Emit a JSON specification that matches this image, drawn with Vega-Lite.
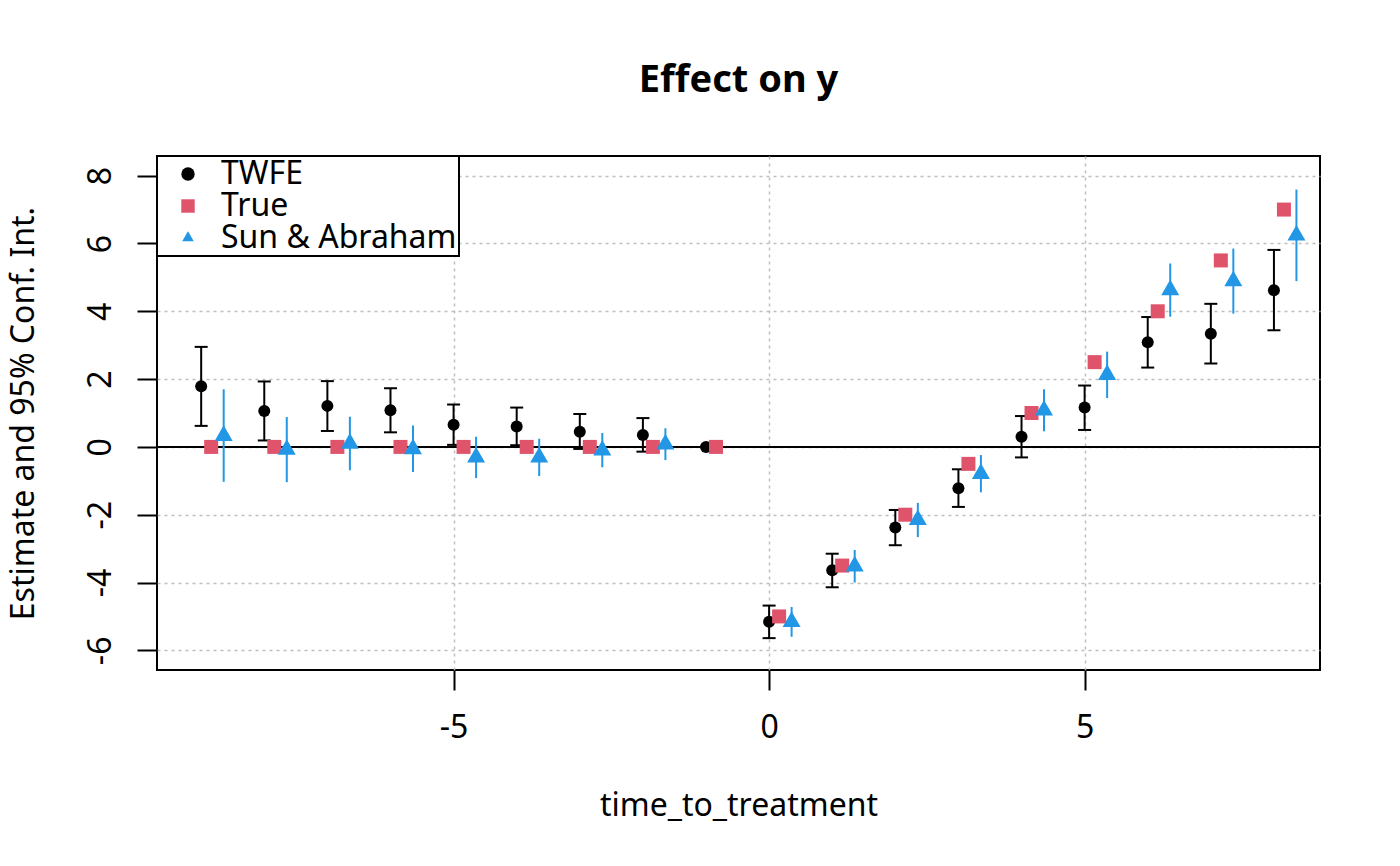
{
  "$schema": "https://vega.github.io/schema/vega-lite/v6.json",
  "autosize": "none",
  "width": 1163,
  "height": 514,
  "padding": {"left": 157, "top": 156, "right": 80, "bottom": 196},
  "background": "white",
  "title": {
    "text": "Effect on y",
    "font": "Noto Sans",
    "fontSize": 38,
    "fontWeight": "bold",
    "color": "black",
    "anchor": "middle",
    "baseline": "alphabetic",
    "offset": 25
  },
  "data": {
    "values": [
      {"time_to_treatment": -9, "model": "TWFE", "estimate": 1.79, "ci_low": 0.62, "ci_high": 2.95},
      {"time_to_treatment": -8, "model": "TWFE", "estimate": 1.06, "ci_low": 0.19, "ci_high": 1.93},
      {"time_to_treatment": -7, "model": "TWFE", "estimate": 1.21, "ci_low": 0.47, "ci_high": 1.94},
      {"time_to_treatment": -6, "model": "TWFE", "estimate": 1.08, "ci_low": 0.43, "ci_high": 1.73},
      {"time_to_treatment": -5, "model": "TWFE", "estimate": 0.65, "ci_low": 0.06, "ci_high": 1.25},
      {"time_to_treatment": -4, "model": "TWFE", "estimate": 0.60, "ci_low": 0.05, "ci_high": 1.16},
      {"time_to_treatment": -3, "model": "TWFE", "estimate": 0.45, "ci_low": -0.06, "ci_high": 0.97},
      {"time_to_treatment": -2, "model": "TWFE", "estimate": 0.35, "ci_low": -0.14, "ci_high": 0.85},
      {"time_to_treatment": -1, "model": "TWFE", "estimate": 0, "ci_low": null, "ci_high": null},
      {"time_to_treatment": 0, "model": "TWFE", "estimate": -5.16, "ci_low": -5.64, "ci_high": -4.68},
      {"time_to_treatment": 1, "model": "TWFE", "estimate": -3.64, "ci_low": -4.14, "ci_high": -3.15},
      {"time_to_treatment": 2, "model": "TWFE", "estimate": -2.38, "ci_low": -2.90, "ci_high": -1.86},
      {"time_to_treatment": 3, "model": "TWFE", "estimate": -1.22, "ci_low": -1.77, "ci_high": -0.66},
      {"time_to_treatment": 4, "model": "TWFE", "estimate": 0.30, "ci_low": -0.31, "ci_high": 0.91},
      {"time_to_treatment": 5, "model": "TWFE", "estimate": 1.16, "ci_low": 0.50, "ci_high": 1.81},
      {"time_to_treatment": 6, "model": "TWFE", "estimate": 3.09, "ci_low": 2.34, "ci_high": 3.83},
      {"time_to_treatment": 7, "model": "TWFE", "estimate": 3.34, "ci_low": 2.46, "ci_high": 4.22},
      {"time_to_treatment": 8, "model": "TWFE", "estimate": 4.62, "ci_low": 3.44, "ci_high": 5.81},
      {"time_to_treatment": -9, "model": "True", "estimate": 0},
      {"time_to_treatment": -8, "model": "True", "estimate": 0},
      {"time_to_treatment": -7, "model": "True", "estimate": 0},
      {"time_to_treatment": -6, "model": "True", "estimate": 0},
      {"time_to_treatment": -5, "model": "True", "estimate": 0},
      {"time_to_treatment": -4, "model": "True", "estimate": 0},
      {"time_to_treatment": -3, "model": "True", "estimate": 0},
      {"time_to_treatment": -2, "model": "True", "estimate": 0},
      {"time_to_treatment": -1, "model": "True", "estimate": 0},
      {"time_to_treatment": 0, "model": "True", "estimate": -5},
      {"time_to_treatment": 1, "model": "True", "estimate": -3.5},
      {"time_to_treatment": 2, "model": "True", "estimate": -2},
      {"time_to_treatment": 3, "model": "True", "estimate": -0.5},
      {"time_to_treatment": 4, "model": "True", "estimate": 1},
      {"time_to_treatment": 5, "model": "True", "estimate": 2.5},
      {"time_to_treatment": 6, "model": "True", "estimate": 4},
      {"time_to_treatment": 7, "model": "True", "estimate": 5.5},
      {"time_to_treatment": 8, "model": "True", "estimate": 7},
      {"time_to_treatment": -9, "model": "Sun & Abraham", "estimate": 0.33, "ci_low": -1.03, "ci_high": 1.70},
      {"time_to_treatment": -8, "model": "Sun & Abraham", "estimate": -0.08, "ci_low": -1.04, "ci_high": 0.88},
      {"time_to_treatment": -7, "model": "Sun & Abraham", "estimate": 0.10, "ci_low": -0.69, "ci_high": 0.89},
      {"time_to_treatment": -6, "model": "Sun & Abraham", "estimate": -0.06, "ci_low": -0.74, "ci_high": 0.63},
      {"time_to_treatment": -5, "model": "Sun & Abraham", "estimate": -0.31, "ci_low": -0.92, "ci_high": 0.30},
      {"time_to_treatment": -4, "model": "Sun & Abraham", "estimate": -0.31, "ci_low": -0.86, "ci_high": 0.24},
      {"time_to_treatment": -3, "model": "Sun & Abraham", "estimate": -0.10, "ci_low": -0.60, "ci_high": 0.41},
      {"time_to_treatment": -2, "model": "Sun & Abraham", "estimate": 0.08, "ci_low": -0.39, "ci_high": 0.55},
      {"time_to_treatment": 0, "model": "Sun & Abraham", "estimate": -5.16, "ci_low": -5.60, "ci_high": -4.72},
      {"time_to_treatment": 1, "model": "Sun & Abraham", "estimate": -3.52, "ci_low": -4.00, "ci_high": -3.04},
      {"time_to_treatment": 2, "model": "Sun & Abraham", "estimate": -2.15, "ci_low": -2.66, "ci_high": -1.65},
      {"time_to_treatment": 3, "model": "Sun & Abraham", "estimate": -0.79, "ci_low": -1.34, "ci_high": -0.24},
      {"time_to_treatment": 4, "model": "Sun & Abraham", "estimate": 1.08, "ci_low": 0.46, "ci_high": 1.70},
      {"time_to_treatment": 5, "model": "Sun & Abraham", "estimate": 2.13, "ci_low": 1.44, "ci_high": 2.81},
      {"time_to_treatment": 6, "model": "Sun & Abraham", "estimate": 4.63, "ci_low": 3.84, "ci_high": 5.41},
      {"time_to_treatment": 7, "model": "Sun & Abraham", "estimate": 4.89, "ci_low": 3.93, "ci_high": 5.85},
      {"time_to_treatment": 8, "model": "Sun & Abraham", "estimate": 6.24, "ci_low": 4.89, "ci_high": 7.59}
    ]
  },
  "layer": [
    {
      "data": {"values": [{"ref": 0}]},
      "mark": {"type": "rule", "color": "black", "strokeWidth": 2},
      "encoding": {
        "y": {
          "field": "ref", "type": "quantitative", "title": "Estimate and 95% Conf. Int.",
          "scale": {"domain": [-6.58, 8.58], "nice": false, "zero": false},
          "axis": {"values": [-6, -4, -2, 0, 2, 4, 6, 8], "labelExpr": "toString(datum.value)"}
        }
      }
    },
    {
      "transform": [{"filter": "datum.model == 'TWFE' && isValid(datum.ci_low)"}],
      "mark": {"type": "rule", "color": "black", "strokeWidth": 2},
      "encoding": {
        "x": {
          "field": "time_to_treatment", "type": "quantitative", "title": "time_to_treatment",
          "scale": {"domain": [-9.7, 8.73], "nice": false, "zero": false},
          "axis": {"values": [-5, 0, 5], "labelExpr": "toString(datum.value)"}
        },
        "y": {"field": "ci_low", "type": "quantitative", "title": "Estimate and 95% Conf. Int."},
        "y2": {"field": "ci_high"}
      }
    },
    {
      "transform": [{"filter": "datum.model == 'TWFE' && isValid(datum.ci_low)"}],
      "mark": {"type": "tick", "orient": "horizontal", "size": 13, "thickness": 2, "color": "black", "opacity": 1},
      "encoding": {
        "x": {"field": "time_to_treatment", "type": "quantitative", "title": "time_to_treatment"},
        "y": {"field": "ci_low", "type": "quantitative", "title": "Estimate and 95% Conf. Int."}
      }
    },
    {
      "transform": [{"filter": "datum.model == 'TWFE' && isValid(datum.ci_high)"}],
      "mark": {"type": "tick", "orient": "horizontal", "size": 13, "thickness": 2, "color": "black", "opacity": 1},
      "encoding": {
        "x": {"field": "time_to_treatment", "type": "quantitative", "title": "time_to_treatment"},
        "y": {"field": "ci_high", "type": "quantitative", "title": "Estimate and 95% Conf. Int."}
      }
    },
    {
      "transform": [{"filter": "datum.model == 'TWFE'"}],
      "mark": {"type": "point", "filled": true, "opacity": 1, "strokeWidth": 0, "size": 144},
      "encoding": {
        "x": {"field": "time_to_treatment", "type": "quantitative", "title": "time_to_treatment"},
        "y": {"field": "estimate", "type": "quantitative", "title": "Estimate and 95% Conf. Int."},
        "color": {
          "field": "model", "type": "nominal",
          "scale": {"domain": ["TWFE", "True", "Sun & Abraham"], "range": ["black", "#DF536B", "#2297E6"]},
          "legend": {"labelExpr": "datum.label + '\u00a0\u00a0\u00a0\u00a0\u00a0'"}
        },
        "shape": {
          "field": "model", "type": "nominal",
          "scale": {"domain": ["TWFE", "True", "Sun & Abraham"], "range": ["circle", "square", "M0,-1L0.866,0.5L-0.866,0.5Z"]},
          "legend": {"labelExpr": "datum.label + '\u00a0\u00a0\u00a0\u00a0\u00a0'"}
        }
      }
    },
    {
      "transform": [{"filter": "datum.model == 'True'"}],
      "mark": {"type": "point", "filled": true, "opacity": 1, "strokeWidth": 0, "size": 196, "xOffset": 10},
      "encoding": {
        "x": {"field": "time_to_treatment", "type": "quantitative", "title": "time_to_treatment"},
        "y": {"field": "estimate", "type": "quantitative", "title": "Estimate and 95% Conf. Int."},
        "color": {"field": "model", "type": "nominal"},
        "shape": {"field": "model", "type": "nominal"}
      }
    },
    {
      "transform": [{"filter": "datum.model == 'Sun & Abraham'"}],
      "mark": {"type": "rule", "color": "#2297E6", "strokeWidth": 2, "xOffset": 22.5},
      "encoding": {
        "x": {"field": "time_to_treatment", "type": "quantitative", "title": "time_to_treatment"},
        "y": {"field": "ci_low", "type": "quantitative", "title": "Estimate and 95% Conf. Int."},
        "y2": {"field": "ci_high"}
      }
    },
    {
      "transform": [{"filter": "datum.model == 'Sun & Abraham'"}],
      "mark": {"type": "point", "filled": true, "opacity": 1, "strokeWidth": 0, "size": 433, "xOffset": 22.5},
      "encoding": {
        "x": {"field": "time_to_treatment", "type": "quantitative", "title": "time_to_treatment"},
        "y": {"field": "estimate", "type": "quantitative", "title": "Estimate and 95% Conf. Int."},
        "color": {"field": "model", "type": "nominal"},
        "shape": {"field": "model", "type": "nominal"}
      }
    }
  ],
  "config": {
    "font": "Noto Sans",
    "view": {"stroke": "black", "strokeWidth": 2},
    "axis": {
      "domain": false,
      "grid": true,
      "gridColor": "#BEBEBE",
      "gridDash": [3, 4],
      "gridWidth": 1.5,
      "ticks": true,
      "tickSize": 20,
      "tickWidth": 2,
      "tickColor": "black",
      "labelFont": "Noto Sans",
      "labelFontSize": 32,
      "labelColor": "black",
      "titleFont": "Noto Sans",
      "titleFontSize": 32,
      "titleFontWeight": "normal",
      "titleColor": "black"
    },
    "axisX": {"labelPadding": 22, "titlePadding": 47},
    "axisY": {"labelAngle": -90, "labelAlign": "center", "labelBaseline": "bottom", "labelPadding": 20, "titlePadding": 44},
    "legend": {
      "orient": "top-left",
      "offset": 0,
      "title": null,
      "labelFont": "Noto Sans",
      "labelFontSize": 32,
      "labelColor": "black",
      "labelLimit": 500,
      "fillColor": "white",
      "strokeColor": "black",
      "strokeWidth": 2,
      "padding": 2,
      "rowPadding": -10,
      "symbolSize": 180,
      "symbolOffset": 13,
      "labelOffset": 17
    }
  }
}
